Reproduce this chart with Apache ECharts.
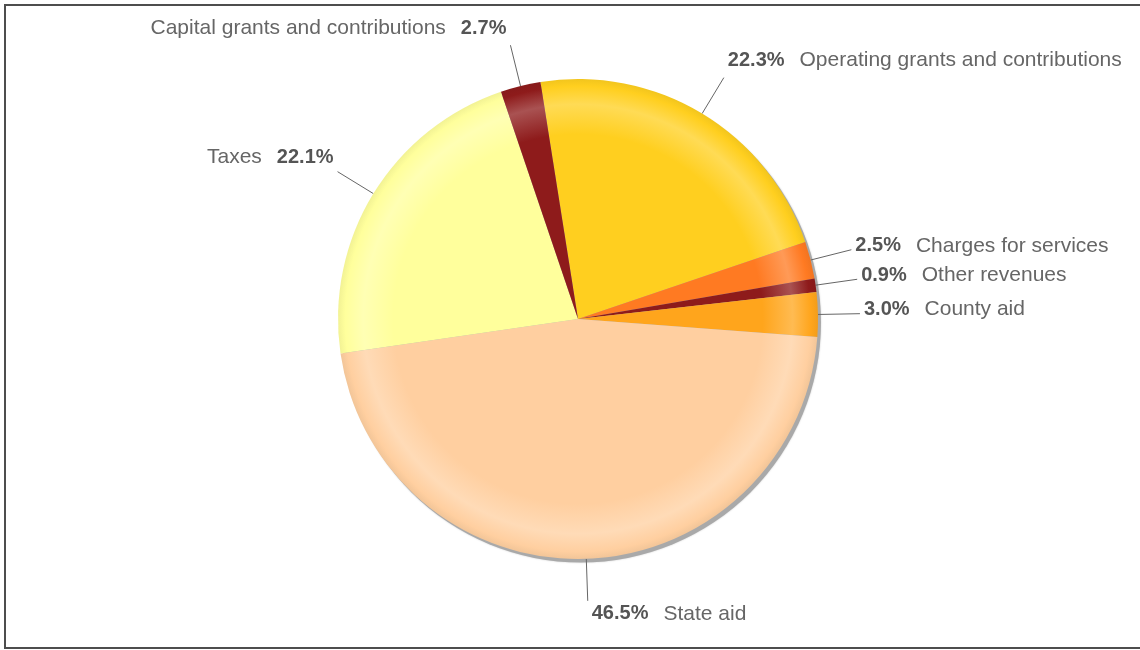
<!DOCTYPE html>
<html>
<head>
<meta charset="utf-8">
<title>Revenue sources</title>
<script src="https://cdn.jsdelivr.net/npm/echarts@6/dist/echarts.min.js"></script>
<style>
  html, body { margin: 0; padding: 0; background: #ffffff; }
  #chart { width: 1140px; height: 650px; }
</style>
</head>
<body>
<div id="chart"></div>
<script>
// Revenue categories, clockwise from the top of the pie
const categories = [
  'Operating grants and contributions',
  'Charges for services',
  'Other revenues',
  'County aid',
  'State aid',
  'Taxes',
  'Capital grants and contributions'
];
// Share of total revenue, in percent
const shares = [22.3, 2.5, 0.9, 3.0, 46.5, 22.1, 2.7];

// Slice palette (same order as categories)
const palette = ['#FFCF1F', '#FF7A22', '#8E1B1B', '#FFA51C', '#FFCFA0', '#FFFF9C', '#8E1B1B'];

const CENTER = [578, 319];
const RADIUS = 240;
const START_ANGLE = 99;
const FONT = 'Liberation Sans, Arial, Helvetica, sans-serif';

function hexToRgb(h) {
  const n = parseInt(h.slice(1), 16);
  return [(n >> 16) & 255, (n >> 8) & 255, n & 255];
}
function mix(h, target, t) {
  const c = hexToRgb(h);
  const r = c.map(v => Math.round(v + (target - v) * t));
  return 'rgb(' + r.join(',') + ')';
}
// Rounded "glassy" fill: soft light ring a little inside the rim
function sliceFill(base) {
  return {
    type: 'radial',
    x: CENTER[0], y: CENTER[1], r: RADIUS,
    global: true,
    colorStops: [
      { offset: 0, color: base },
      { offset: 0.77, color: base },
      { offset: 0.895, color: mix(base, 255, 0.24) },
      { offset: 0.97, color: base },
      { offset: 1, color: mix(base, 0, 0.05) }
    ]
  };
}

// Mid angle of each slice (degrees, counter-clockwise from 3 o'clock)
const total = shares.reduce((a, b) => a + b, 0);
const midAngles = [];
{
  let acc = 0;
  shares.forEach(v => {
    midAngles.push(START_ANGLE - (acc + v / 2) / total * 360);
    acc += v;
  });
}

const pieData = categories.map((name, i) => ({
  name: name,
  value: shares[i],
  itemStyle: { color: sliceFill(palette[i]) }
}));

const chart = echarts.init(document.getElementById('chart'), null, { renderer: 'canvas' });

chart.setOption({
  animation: false,
  backgroundColor: '#ffffff',
  graphic: [{
    type: 'rect',
    silent: true,
    shape: { x: 5, y: 5, width: 1150, height: 643 },
    style: { fill: 'none', stroke: '#4d4d4d', lineWidth: 2 }
  }],
  series: [
    {
      // drop shadow below the pie
      type: 'pie',
      silent: true,
      center: [CENTER[0] + 3, CENTER[1] + 3.5],
      radius: RADIUS,
      label: { show: false },
      labelLine: { show: false },
      itemStyle: { color: '#a9a9a9', shadowBlur: 2, shadowColor: 'rgba(0,0,0,0.2)' },
      data: [{ name: '', value: 1 }],
      z: 1
    },
    {
      type: 'pie',
      center: CENTER,
      radius: RADIUS,
      startAngle: START_ANGLE,
      clockwise: true,
      avoidLabelOverlap: false,
      minShowLabelAngle: 0,
      z: 2,
      itemStyle: { borderWidth: 0 },
      emphasis: { disabled: true },
      label: {
        show: true,
        position: 'outside',
        fontFamily: FONT,
        fontSize: 20,
        lineHeight: 22,
        formatter: function (p) {
          const pct = '{p|' + shares[p.dataIndex].toFixed(1) + '%}';
          const nm = '{n|' + p.name + '}';
          const right = Math.cos(midAngles[p.dataIndex] * Math.PI / 180) >= 0;
          return right ? pct + '{g|}' + nm : nm + '{g|}' + pct;
        },
        rich: {
          p: { fontFamily: FONT, fontSize: 20, fontWeight: 'bold', color: '#555555' },
          n: { fontFamily: FONT, fontSize: 21, color: '#666666' },
          g: { width: 15 }
        }
      },
      labelLine: {
        show: true,
        length: 42,
        length2: 0,
        smooth: false,
        lineStyle: { color: '#666666', width: 1 }
      },
      labelLayout: function (p) {
        const pts = p.labelLinePoints;
        if (!pts) return {};
        const a = pts[0], b = pts[1];
        const dx = b[0] - a[0], dy = b[1] - a[1];
        const len = Math.hypot(dx, dy) || 1;
        const c = dx / len, s = -dy / len;
        const h = p.labelRect.height;
        let y;
        if (s > 0.75) y = b[1] - 6 - h / 2;
        else if (s > 0.45) y = b[1] - 3 - h / 2;
        else if (s < -0.45) y = b[1] + 2 + h / 2;
        else y = b[1] - 4;
        return {
          x: c >= 0 ? b[0] + 4 : b[0] - 4,
          y: y,
          align: c >= 0 ? 'left' : 'right',
          verticalAlign: 'middle',
          labelLinePoints: [a, b, b]
        };
      },
      data: pieData
    }
  ]
});
</script>
</body>
</html>
